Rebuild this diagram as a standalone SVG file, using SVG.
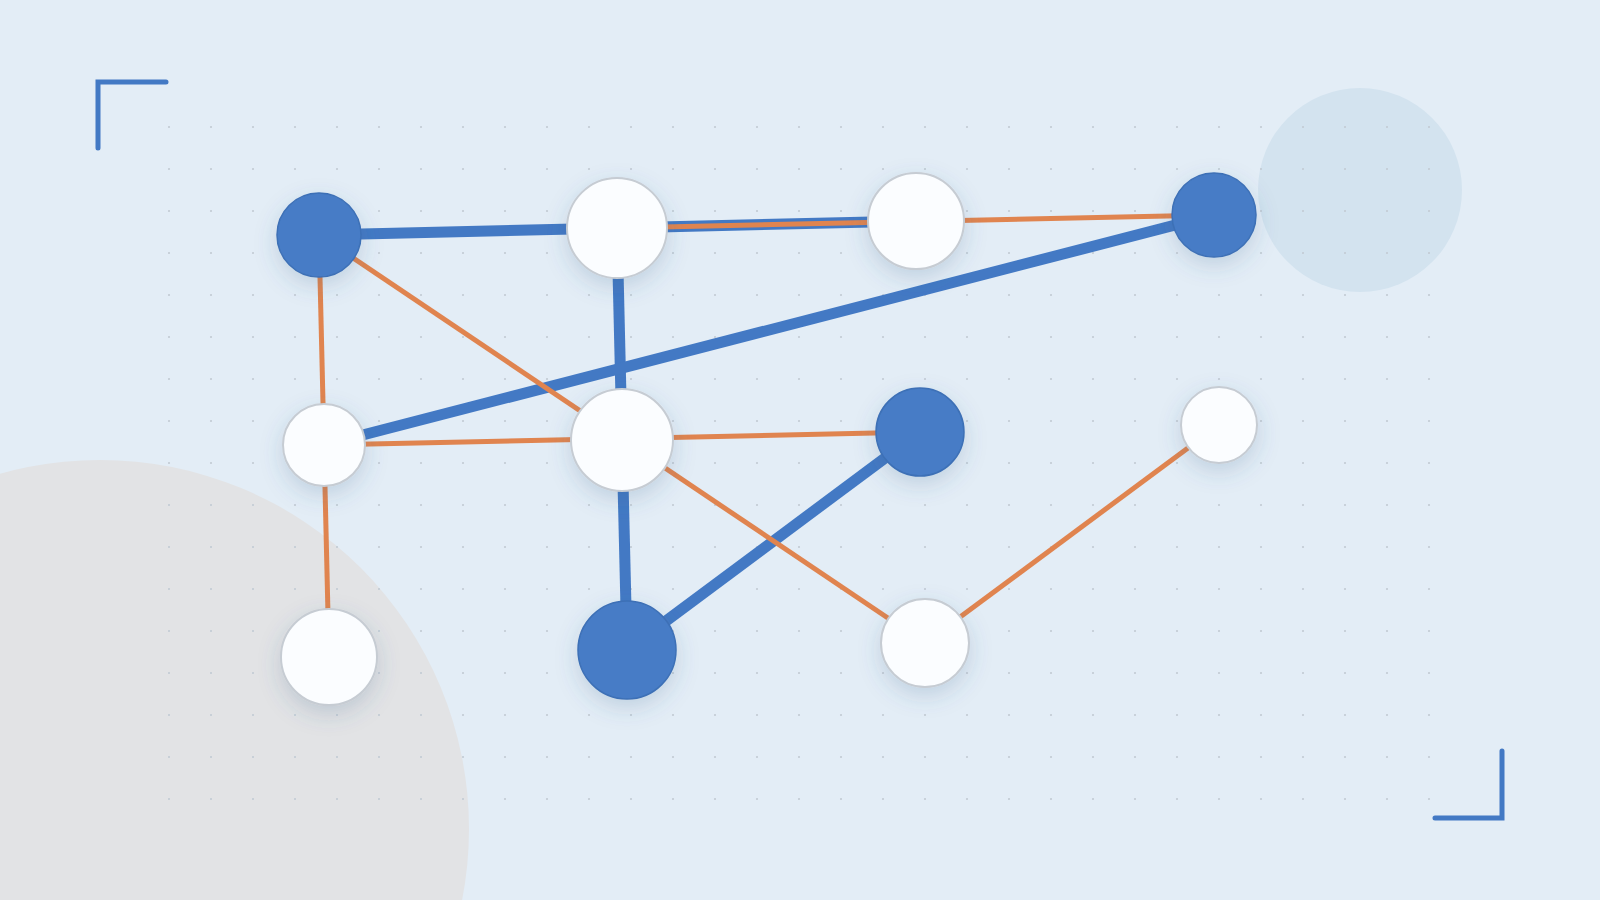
<svg xmlns="http://www.w3.org/2000/svg" width="1600" height="900" viewBox="0 0 1600 900">
  <defs>
    <pattern id="dots" x="148" y="106" width="42" height="42" patternUnits="userSpaceOnUse">
      <circle cx="21" cy="21" r="1.1" fill="#c2cbd4"/>
    </pattern>
    <filter id="shadow" x="-60%" y="-60%" width="220%" height="220%">
      <feDropShadow dx="0" dy="8" stdDeviation="11" flood-color="#3a5f8a" flood-opacity="0.2"/>
    </filter>
  </defs>
  <style>
    .blue-edge { stroke: #4379c4; stroke-width: 11; fill: none; }
    .orange-edge { stroke: #e0844f; stroke-width: 5; fill: none; }
    .node-blue { fill: #467cc6; stroke: #3d70b6; stroke-width: 1.5; filter: url(#shadow); }
    .node-white { fill: #fbfdff; stroke: #c6ccd3; stroke-width: 2; filter: url(#shadow); }
    .bracket { stroke: #4379c4; stroke-width: 5; fill: none; stroke-linecap: round; stroke-linejoin: miter; }
  </style>

  <!-- background -->
  <rect x="0" y="0" width="1600" height="900" fill="#e3edf6"/>
  <circle cx="100" cy="829" r="369" fill="#e2e3e5"/>
  <circle cx="1360" cy="190" r="102" fill="#d3e3ef"/>
  <rect x="148" y="106" width="1302" height="714" fill="url(#dots)"/>

  <!-- corner brackets -->
  <path class="bracket" d="M98 148 L98 82 L166 82"/>
  <path class="bracket" d="M1435 818 L1502 818 L1502 751"/>

  <!-- connectors -->
  <g id="connectors">
    <line class="blue-edge" x1="319" y1="235" x2="617" y2="228"/>
    <line class="blue-edge" x1="617" y1="228" x2="916" y2="221"/>
    <line class="blue-edge" x1="617" y1="228" x2="622" y2="440"/>
    <line class="blue-edge" x1="324" y1="445" x2="1214" y2="215"/>
    <line class="blue-edge" x1="622" y1="440" x2="627" y2="650"/>
    <line class="blue-edge" x1="627" y1="650" x2="920" y2="432"/>
    <line class="orange-edge" x1="617" y1="228" x2="1214" y2="215"/>
    <line class="orange-edge" x1="319" y1="235" x2="324" y2="445"/>
    <line class="orange-edge" x1="319" y1="235" x2="925" y2="643"/>
    <line class="orange-edge" x1="324" y1="445" x2="920" y2="432"/>
    <line class="orange-edge" x1="324" y1="445" x2="329" y2="657"/>
    <line class="orange-edge" x1="925" y1="643" x2="1219" y2="425"/>
  </g>

  <!-- nodes -->
  <g id="node-a"><circle class="node-blue" cx="319" cy="235" r="42"/></g>
  <g id="node-b"><circle class="node-white" cx="617" cy="228" r="50"/></g>
  <g id="node-e"><circle class="node-white" cx="916" cy="221" r="48"/></g>
  <g id="node-g"><circle class="node-blue" cx="1214" cy="215" r="42"/></g>
  <g id="node-c"><circle class="node-white" cx="324" cy="445" r="41"/></g>
  <g id="node-d"><circle class="node-white" cx="622" cy="440" r="51"/></g>
  <g id="node-f"><circle class="node-blue" cx="920" cy="432" r="44"/></g>
  <g id="node-k"><circle class="node-white" cx="1219" cy="425" r="38"/></g>
  <g id="node-h"><circle class="node-white" cx="329" cy="657" r="48"/></g>
  <g id="node-i"><circle class="node-blue" cx="627" cy="650" r="49"/></g>
  <g id="node-j"><circle class="node-white" cx="925" cy="643" r="44"/></g>
</svg>
